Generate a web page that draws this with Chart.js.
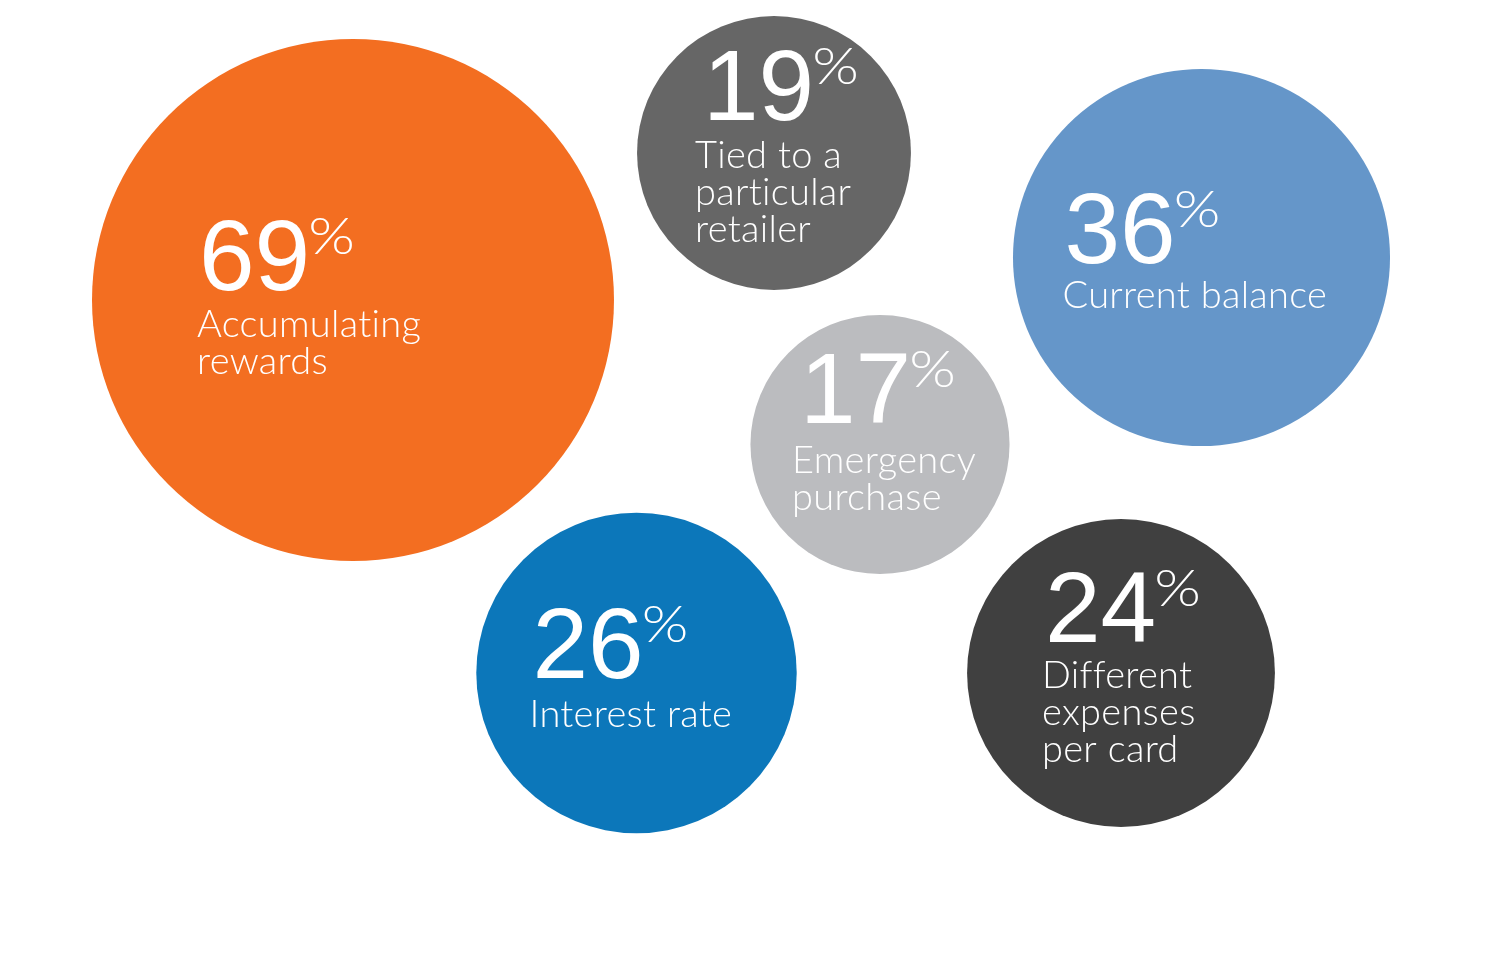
<!DOCTYPE html>
<html>
<head>
<meta charset="utf-8">
<script src="https://cdn.jsdelivr.net/npm/chart.js@4/dist/chart.umd.min.js"></script>
<style>
  html, body { margin: 0; padding: 0; background: #fff; }
  #wrap { width: 1500px; height: 975px; }
</style>
</head>
<body>
<div id="wrap"><canvas id="bubbles" width="1500" height="975"></canvas></div>
<script>
// Survey answers (share of respondents, %)
const labels = [
  ["Accumulating", "rewards"],
  ["Tied to a", "particular", "retailer"],
  ["Current balance"],
  ["Emergency", "purchase"],
  ["Interest rate"],
  ["Different", "expenses", "per card"]
];
const values = [69, 19, 36, 17, 26, 24];
// bubble centres on the hidden 0..1500 / 0..975 grid
const centerX = [353, 774, 1201.5, 880, 636.5, 1121];
const centerY = [300, 153, 257.5, 444.5, 673, 673];

const colors = ["#F36E21", "#666666", "#6596C9", "#BBBCBF", "#0C77BA", "#404040"];
// pixel radius per sqrt(percent)
const radiusScale = 31.42;
// text block anchor relative to bubble centre: [numX, numBaseline, labelX, firstLabelBaseline]
const textOffsets = [
  [-154, -10, -156, 37],
  [-71, -33, -79, 15],
  [-137, 5, -139, 50],
  [-80, -22, -88, 28],
  [-104, 5, -107, 54],
  [-76, -31, -79, 15]
];
const lineHeight = 37;

const bubbleText = {
  id: "bubbleText",
  afterDatasetsDraw(chart) {
    const ctx = chart.ctx;
    const meta = chart.getDatasetMeta(0);
    ctx.save();
    ctx.fillStyle = "#ffffff";
    ctx.textBaseline = "alphabetic";
    ctx.textAlign = "left";
    meta.data.forEach((pt, i) => {
      const [nx, ny, lx, ly] = textOffsets[i];
      const num = String(values[i]);
      ctx.letterSpacing = "0px";
      ctx.font = "400 100px 'Liberation Sans', Arial, sans-serif";
      ctx.fillText(num, pt.x + nx, pt.y + ny);
      const w = ctx.measureText(num).width;
      // wide, thin percent sign
      ctx.save();
      ctx.font = "300 52px 'Lato', 'Roboto', sans-serif";
      ctx.translate(pt.x + nx + w - 2, pt.y + ny - 36);
      ctx.scale(1.15, 1);
      ctx.fillText("%", 0, 0);
      ctx.restore();
      // small tracking also keeps Lato from joining "ti"
      ctx.letterSpacing = "0.3px";
      ctx.font = "300 38px 'Lato', 'Roboto', sans-serif";
      labels[i].forEach((line, j) => {
        ctx.fillText(line, pt.x + lx, pt.y + ly + j * lineHeight);
      });
    });
    ctx.restore();
  }
};

new Chart(document.getElementById("bubbles"), {
  type: "bubble",
  data: {
    datasets: [{
      data: values.map((v, i) => ({ x: centerX[i], y: centerY[i], r: radiusScale * Math.sqrt(v) })),
      backgroundColor: colors,
      borderWidth: 0,
      hoverBorderWidth: 0,
      clip: false
    }]
  },
  options: {
    responsive: false,
    animation: false,
    events: [],
    layout: { padding: 0, autoPadding: false },
    plugins: { legend: { display: false }, tooltip: { enabled: false } },
    scales: {
      x: { type: "linear", min: 0, max: 1500, display: false },
      y: { type: "linear", min: 0, max: 975, reverse: true, display: false }
    }
  },
  plugins: [bubbleText]
});
</script>
</body>
</html>
